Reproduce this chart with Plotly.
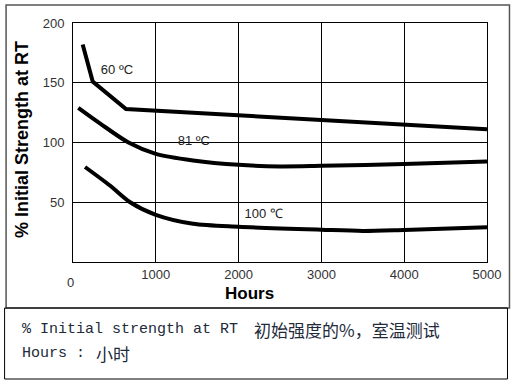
import plotly.graph_objects as go

# ---- data ----
hours_60 = [117, 238, 640, 1000, 2000, 3000, 4000, 5000]
strength_60 = [182, 151, 128, 126.6, 122.5, 119, 115, 111]

hours_81 = [64, 325, 670, 1000, 1450, 2000, 2500, 3000, 4000, 5000]
strength_81 = [129, 116, 100, 90.5, 85, 81.3, 80, 80.5, 82, 84]

hours_100 = [145, 446, 690, 1000, 1450, 2000, 3000, 3500, 4000, 5000]
strength_100 = [79.5, 64, 50, 39.5, 32, 29.5, 27, 26, 26.8, 29]

x_ticks = [1000, 2000, 3000, 4000, 5000]
y_ticks = [50, 100, 150, 200]

labels = ["60 ºC", "81 ºC", "100 ℃"]
label_x = [531, 1460, 2304]
label_y = [159.8, 101, 39.3]

y_title = "% Initial Strength at RT"
x_title = "Hours"
caption1_en = "% Initial strength at RT "
caption1_cn = "初始强度的%，室温测试"
caption2_en = "Hours : "
caption2_cn = "小时"

# ---- geometry helpers (pixel -> paper) ----
W, H = 515, 386
L, R, T, B = 73, 487.5, 23, 262


def px(x):
    return (x - L) / (R - L)


def py(y):
    return (B - y) / (B - T)


fig = go.Figure()

for xs, ys, shape in [(hours_60, strength_60, "linear"),
                      (hours_81, strength_81, "spline"),
                      (hours_100, strength_100, "spline")]:
    fig.add_trace(go.Scatter(x=xs, y=ys, mode="lines",
                             line=dict(color="black", width=4, shape=shape, smoothing=0.8),
                             showlegend=False, hoverinfo="skip"))

fig.add_trace(go.Scatter(x=label_x, y=label_y, mode="text", text=labels,
                         textfont=dict(family="Liberation Sans, Arial", size=13, color="#222"),
                         showlegend=False, hoverinfo="skip"))

fig.update_xaxes(range=[0, 5000], tickvals=x_ticks, ticktext=[str(v) for v in x_ticks],
                 showgrid=True, gridcolor="black", gridwidth=1,
                 showline=True, linecolor="black", linewidth=1, mirror=True,
                 zeroline=False, ticks="",
                 tickfont=dict(family="Liberation Sans, Arial", size=13, color="#333"))
fig.update_yaxes(range=[0, 200], tickvals=y_ticks, ticktext=[str(v) for v in y_ticks],
                 showgrid=True, gridcolor="black", gridwidth=1,
                 showline=True, linecolor="black", linewidth=1, mirror=True,
                 zeroline=False, ticks="", ticklabelstandoff=5,
                 tickfont=dict(family="Liberation Sans, Arial", size=13, color="#333"))


def ann(text, x, y, size, family, color, xanchor="center", angle=0):
    return dict(text=text, x=px(x), y=py(y), xref="paper", yref="paper",
                xanchor=xanchor, yanchor="middle", showarrow=False, textangle=angle,
                font=dict(family=family, size=size, color=color))


SANS = "Liberation Sans, Arial"
MONO = "Liberation Mono, Courier New"
CJK = "Noto Sans CJK SC"
CAP = "#222a3a"

annotations = [
    ann("0", 70, 282, 13, SANS, "#333"),
    ann("<b>" + x_title + "</b>", 250, 293, 17, SANS, "black"),
    ann("<b>" + y_title + "</b>", 22, 140, 18, SANS, "black", angle=-90),
    ann(caption1_en, 20, 329, 15, MONO, CAP, xanchor="left"),
    ann(caption1_cn, 252, 329, 17, CJK, CAP, xanchor="left"),
    ann(caption2_en, 20, 353, 15, MONO, CAP, xanchor="left"),
    ann(caption2_cn, 94, 353, 17, CJK, CAP, xanchor="left"),
]

shapes = [
    # outer chart frame
    dict(type="rect", xref="paper", yref="paper", x0=px(6), x1=px(510), y0=py(5), y1=py(308),
         line=dict(color="#555", width=1.5), layer="below"),
    # caption box
    dict(type="rect", xref="paper", yref="paper", x0=px(4.5), x1=px(508), y0=py(308), y1=py(379),
         line=dict(color="black", width=1), layer="below"),
]

fig.update_layout(width=W, height=H, margin=dict(l=L, r=W - R, t=T, b=H - B),
                  paper_bgcolor="white", plot_bgcolor="white",
                  annotations=annotations, shapes=shapes)

fig.write_html("out.html", config={"displayModeBar": False},
               post_script="document.body.style.margin='0px';document.body.style.overflow='hidden';")
